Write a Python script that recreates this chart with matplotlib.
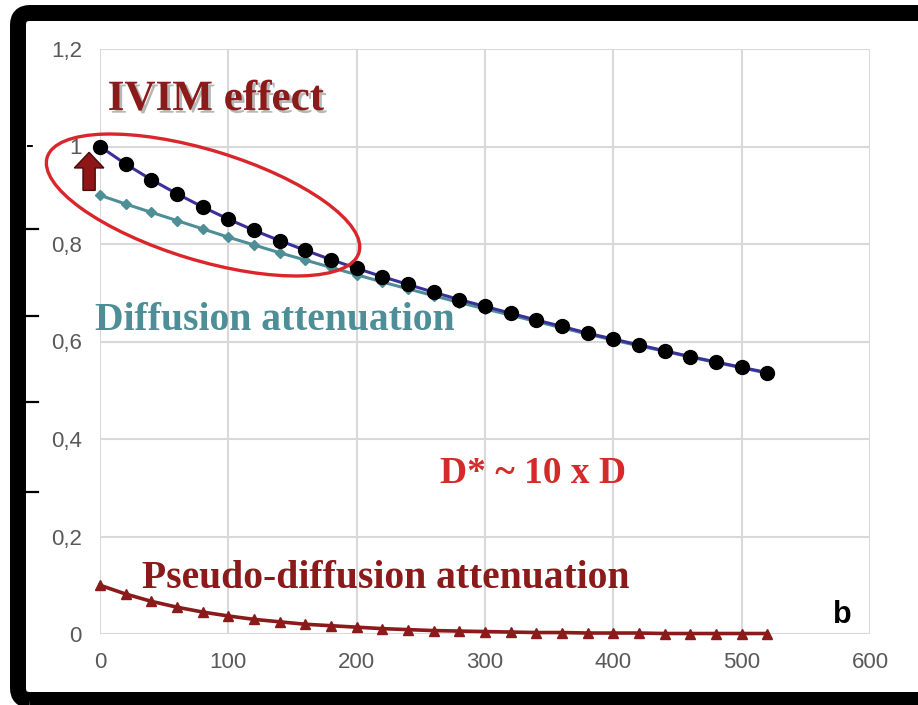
import matplotlib
matplotlib.use("Agg")
import matplotlib.pyplot as plt
import matplotlib.patches as mpatches
import matplotlib.patheffects as pe
from matplotlib.transforms import ScaledTranslation
from matplotlib.lines import Line2D

# b-values and signal curves
b_values = [0, 20, 40, 60, 80, 100, 120, 140, 160, 180, 200, 220, 240, 260,
            280, 300, 320, 340, 360, 380, 400, 420, 440, 460, 480, 500, 520]
total = [1.000, 0.964, 0.932, 0.903, 0.876, 0.851, 0.828, 0.807, 0.787, 0.768,
         0.750, 0.733, 0.717, 0.701, 0.686, 0.672, 0.658, 0.644, 0.631, 0.617,
         0.605, 0.593, 0.581, 0.569, 0.558, 0.547, 0.536]
diffusion = [0.900, 0.882, 0.865, 0.848, 0.831, 0.814, 0.798, 0.782, 0.767, 0.752,
             0.737, 0.722, 0.708, 0.694, 0.680, 0.667, 0.654, 0.641, 0.628, 0.615,
             0.603, 0.591, 0.580, 0.568, 0.557, 0.546, 0.535]
pseudo = [0.100, 0.082, 0.067, 0.055, 0.045, 0.037, 0.030, 0.025, 0.020, 0.017,
          0.014, 0.011, 0.009, 0.007, 0.006, 0.005, 0.004, 0.003, 0.003, 0.002,
          0.002, 0.002, 0.001, 0.001, 0.001, 0.001, 0.001]

xticks = [0, 100, 200, 300, 400, 500, 600]
yticks = [0, 0.2, 0.4, 0.6, 0.8, 1.0, 1.2]
ytick_labels = ["0", "0,2", "0,4", "0,6", "0,8", "1", "1,2"]

DARKRED = "#8B1A1A"
TEAL = "#4E8E96"
BLUE = "#3B2F9C"
RED = "#D42A2A"

fig = plt.figure(figsize=(9.18, 7.05), dpi=100)
fig.patch.set_facecolor("white")

# black photo frame (right side is cut off in the original)
frame = mpatches.FancyBboxPatch((0.18, 0.05), 9.5, 6.87, boxstyle="round,pad=0,rounding_size=0.12",
                                transform=fig.dpi_scale_trans, facecolor="none",
                                edgecolor="black", linewidth=11.5, zorder=0)
fig.patches.append(frame)
# little dashes sticking out from the left frame
for yy in [2.13, 3.03, 3.89, 4.76]:
    fig.lines.append(Line2D([0.26, 0.38], [yy, yy], transform=fig.dpi_scale_trans,
                            color="black", linewidth=1.6))
fig.lines.append(Line2D([0.27, 0.36], [5.59, 5.59], transform=fig.dpi_scale_trans,
                        color="black", linewidth=1.4, linestyle=(0, (3, 3))))

ax = fig.add_axes([100 / 918, 71 / 705, 770 / 918, 585 / 705])
ax.set_xlim(0, 600)
ax.set_ylim(0, 1.2)
ax.set_xticks(xticks)
ax.set_yticks(yticks)
ax.set_yticklabels(ytick_labels)
ax.grid(True, color="#d9d9d9", linewidth=1.5)
ax.set_axisbelow(True)
for s in ax.spines.values():
    s.set_visible(False)
ax.tick_params(length=0, labelsize=16, labelcolor="#595959", pad=13)
for lab in ax.get_xticklabels() + ax.get_yticklabels():
    lab.set_family("Liberation Sans")

ax.plot(b_values, pseudo, color=DARKRED, linewidth=2.6, marker="^", markersize=7,
        clip_on=False, zorder=3)
ax.plot(b_values, diffusion, color=TEAL, linewidth=2.2, marker="D", markersize=5.5,
        clip_on=False, zorder=3)
ax.plot(b_values, total, color=BLUE, linewidth=2.2, marker="o", markersize=10,
        markerfacecolor="black", markeredgecolor="black", clip_on=False, zorder=4)

# ellipse around the IVIM part (drawn in inches, anchored in data space)
ell = mpatches.Ellipse((0, 0), 3.26, 1.10, angle=-17,
                       transform=fig.dpi_scale_trans + ScaledTranslation(80.3, 0.880, ax.transData),
                       facecolor="none", edgecolor="#D9262B", linewidth=2.4, clip_on=False, zorder=5)
ax.add_patch(ell)

arrow = mpatches.FancyArrow(-8.5, 0.91, 0, 0.078, width=9.5, head_width=23,
                            head_length=0.032, length_includes_head=True,
                            facecolor="#8E1616", edgecolor="#4a0a0a", linewidth=1,
                            clip_on=False, zorder=6)
ax.add_patch(arrow)

serif = "Liberation Serif"
ax.text(6, 1.075, "IVIM effect", color=DARKRED, fontsize=31, fontweight="bold",
        family=serif, va="baseline", ha="left",
        path_effects=[pe.SimplePatchShadow(offset=(2, -2), shadow_rgbFace="#888888", alpha=0.6),
                      pe.Normal()])
ax.text(-4, 0.624, "Diffusion attenuation", color=TEAL, fontsize=28.5, fontweight="bold",
        family=serif, va="baseline", ha="left", zorder=7)
ax.text(265, 0.310, "D* ~ 10 x D", color=RED, fontsize=27, fontweight="bold",
        family=serif, va="baseline", ha="left")
ax.text(33, 0.094, "Pseudo-diffusion attenuation", color=DARKRED, fontsize=28.5,
        fontweight="bold", family=serif, va="baseline", ha="left")
ax.text(571, 0.0226, "b", color="black", fontsize=22, fontweight="bold",
        family="Liberation Sans", va="baseline", ha="left")

plt.savefig("out.png", dpi=100)
